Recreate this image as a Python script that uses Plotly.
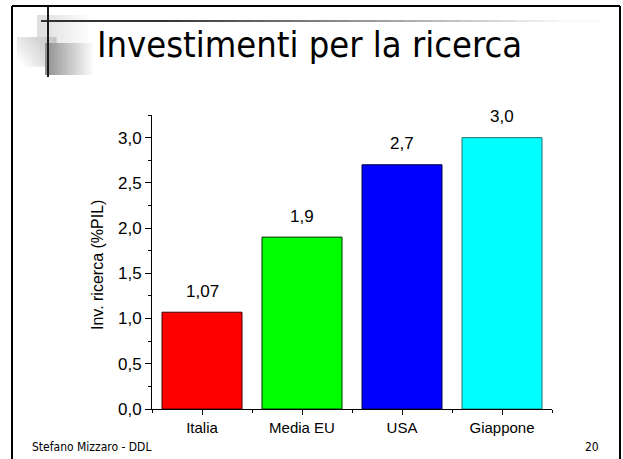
import plotly.graph_objects as go

# ---- data ----
categories = ["Italia", "Media EU", "USA", "Giappone"]
values = [1.07, 1.9, 2.7, 3.0]
value_labels = ["1,07", "1,9", "2,7", "3,0"]
bar_colors = ["#FF0000", "#00FF00", "#0000FF", "#00FFFF"]
bar_edges = ["#400000", "#003000", "#000040", "#2a7070"]
y_tick_vals = [0.0, 0.5, 1.0, 1.5, 2.0, 2.5, 3.0]

W, H = 623, 459
L, R, T, B = 152, 552, 115, 409  # plot area in pixels

def px(x):
    return (x - L) / (R - L)

def py(y):
    return (B - y) / (B - T)

shapes = []

def rect(x0, y0, x1, y1, color, opacity=1.0):
    shapes.append(dict(type="rect", xref="paper", yref="paper",
                       x0=px(x0), x1=px(x1), y0=py(y1), y1=py(y0),
                       fillcolor=color, line=dict(width=0), opacity=opacity,
                       layer="below"))

def line(x0, y0, x1, y1, color, width):
    shapes.append(dict(type="line", xref="paper", yref="paper",
                       x0=px(x0), x1=px(x1), y0=py(y0), y1=py(y1),
                       line=dict(color=color, width=width), layer="above"))

def gray(v):
    v = int(max(0, min(255, v)))
    return "rgb(%d,%d,%d)" % (v, v, v)

def hgrad(x0, y0, x1, y1, g0, g1, n=24):
    w = (x1 - x0) / n
    for i in range(n):
        t = i / (n - 1)
        rect(x0 + i * w, y0, x0 + (i + 1) * w + 0.6, y1, gray(g0 + (g1 - g0) * t))

def grid_grad(x0, y0, x1, y1, f, nx=10, ny=10):
    w = (x1 - x0) / nx
    h = (y1 - y0) / ny
    for i in range(nx):
        for j in range(ny):
            rect(x0 + i * w, y0 + j * h, x0 + (i + 1) * w + 0.6,
                 y0 + (j + 1) * h + 0.6, gray(f(i / (nx - 1), j / (ny - 1))))

# decorative squares (top-left)
hgrad(37, 15, 88, 43, 222, 252)
grid_grad(17, 37, 56, 66, lambda u, v: 232 - 35 * u + 25 * v - 10 * u * v)
hgrad(45, 43, 95, 75, 145, 255, n=30)

# decorative horizontal line with fade
nseg = 40
x_start, x_end = 41, 600
for i in range(nseg):
    t = i / (nseg - 1)
    seg0 = x_start + (x_end - x_start) * i / nseg
    seg1 = x_start + (x_end - x_start) * (i + 1) / nseg
    if t < 0.2:
        g = 50
    else:
        g = 50 + (250 - 50) * min(1, (t - 0.2) / 0.75)
    line(seg0, 21, seg1 + 0.5, 21, gray(g), 2)

# vertical decorative line
line(48, 7, 48, 77, "#1a1a1a", 2)

# slide frame
line(12, 6, 620, 6, "#000000", 2)
line(12, 6, 12, 470, "#000000", 2)
line(620, 6, 620, 470, "#000000", 2)

x_idx = list(range(len(categories)))

fig = go.Figure()
fig.add_trace(go.Bar(
    x=x_idx, y=values, width=0.8,
    marker=dict(color=bar_colors, line=dict(color=bar_edges, width=1)),
    hoverinfo="skip",
))

annotations = []
for xi, v, lab in zip(x_idx, values, value_labels):
    annotations.append(dict(x=xi, y=v, xref="x", yref="y", text=lab,
                            showarrow=False, yanchor="middle", yshift=21,
                            font=dict(family="Liberation Sans, Arial", size=17, color="#000")))

annotations.append(dict(x=px(95), y=py(45), xref="paper", yref="paper",
                        text="Investimenti per la ricerca", showarrow=False,
                        xanchor="left", yanchor="middle",
                        font=dict(family="DejaVu Sans Condensed, DejaVu Sans", size=36, color="#000")))
annotations.append(dict(x=px(30), y=py(447), xref="paper", yref="paper",
                        text="Stefano Mizzaro - DDL", showarrow=False,
                        xanchor="left", yanchor="middle",
                        font=dict(family="DejaVu Sans Condensed, DejaVu Sans", size=12, color="#000")))
annotations.append(dict(x=px(601), y=py(447), xref="paper", yref="paper",
                        text="20", showarrow=False,
                        xanchor="right", yanchor="middle",
                        font=dict(family="DejaVu Sans Condensed, DejaVu Sans", size=12, color="#000")))
annotations.append(dict(x=px(97), y=py(265), xref="paper", yref="paper",
                        text="Inv. ricerca (%PIL)", showarrow=False, textangle=-90,
                        xanchor="center", yanchor="middle",
                        font=dict(family="Liberation Sans, Arial", size=16, color="#000")))

fig.update_layout(
    width=W, height=H,
    margin=dict(l=L, r=W - R, t=T, b=H - B, pad=0),
    paper_bgcolor="white", plot_bgcolor="white",
    separators=",.",
    showlegend=False,
    shapes=shapes,
    annotations=annotations,
    xaxis=dict(
        range=[-0.5, 3.5], tickvals=x_idx, ticktext=categories,
        showgrid=False, zeroline=False, showline=True, linecolor="#000", linewidth=1,
        ticks="outside", ticklen=5, tickcolor="#000", tickwidth=1,
        minor=dict(tickvals=[-0.5, 0.5, 1.5, 2.5, 3.5], ticks="outside", ticklen=3,
                   tickcolor="#000", tickwidth=1),
        tickfont=dict(family="Liberation Sans, Arial", size=15, color="#000"),
        fixedrange=True,
    ),
    yaxis=dict(
        range=[0, 3.25], tickvals=y_tick_vals, tickformat=".1f",
        showgrid=False, zeroline=False, showline=True, linecolor="#000", linewidth=1,
        ticks="outside", ticklen=6, tickcolor="#000", tickwidth=1,
        minor=dict(dtick=0.25, tick0=0, ticks="outside", ticklen=3,
                   tickcolor="#000", tickwidth=1),
        tickfont=dict(family="Liberation Sans, Arial", size=17, color="#000"),
        fixedrange=True,
    ),
)

fig.write_html("out.html", config={"displayModeBar": False},
               post_script="document.body.style.margin='0';document.body.style.overflow='hidden';")
